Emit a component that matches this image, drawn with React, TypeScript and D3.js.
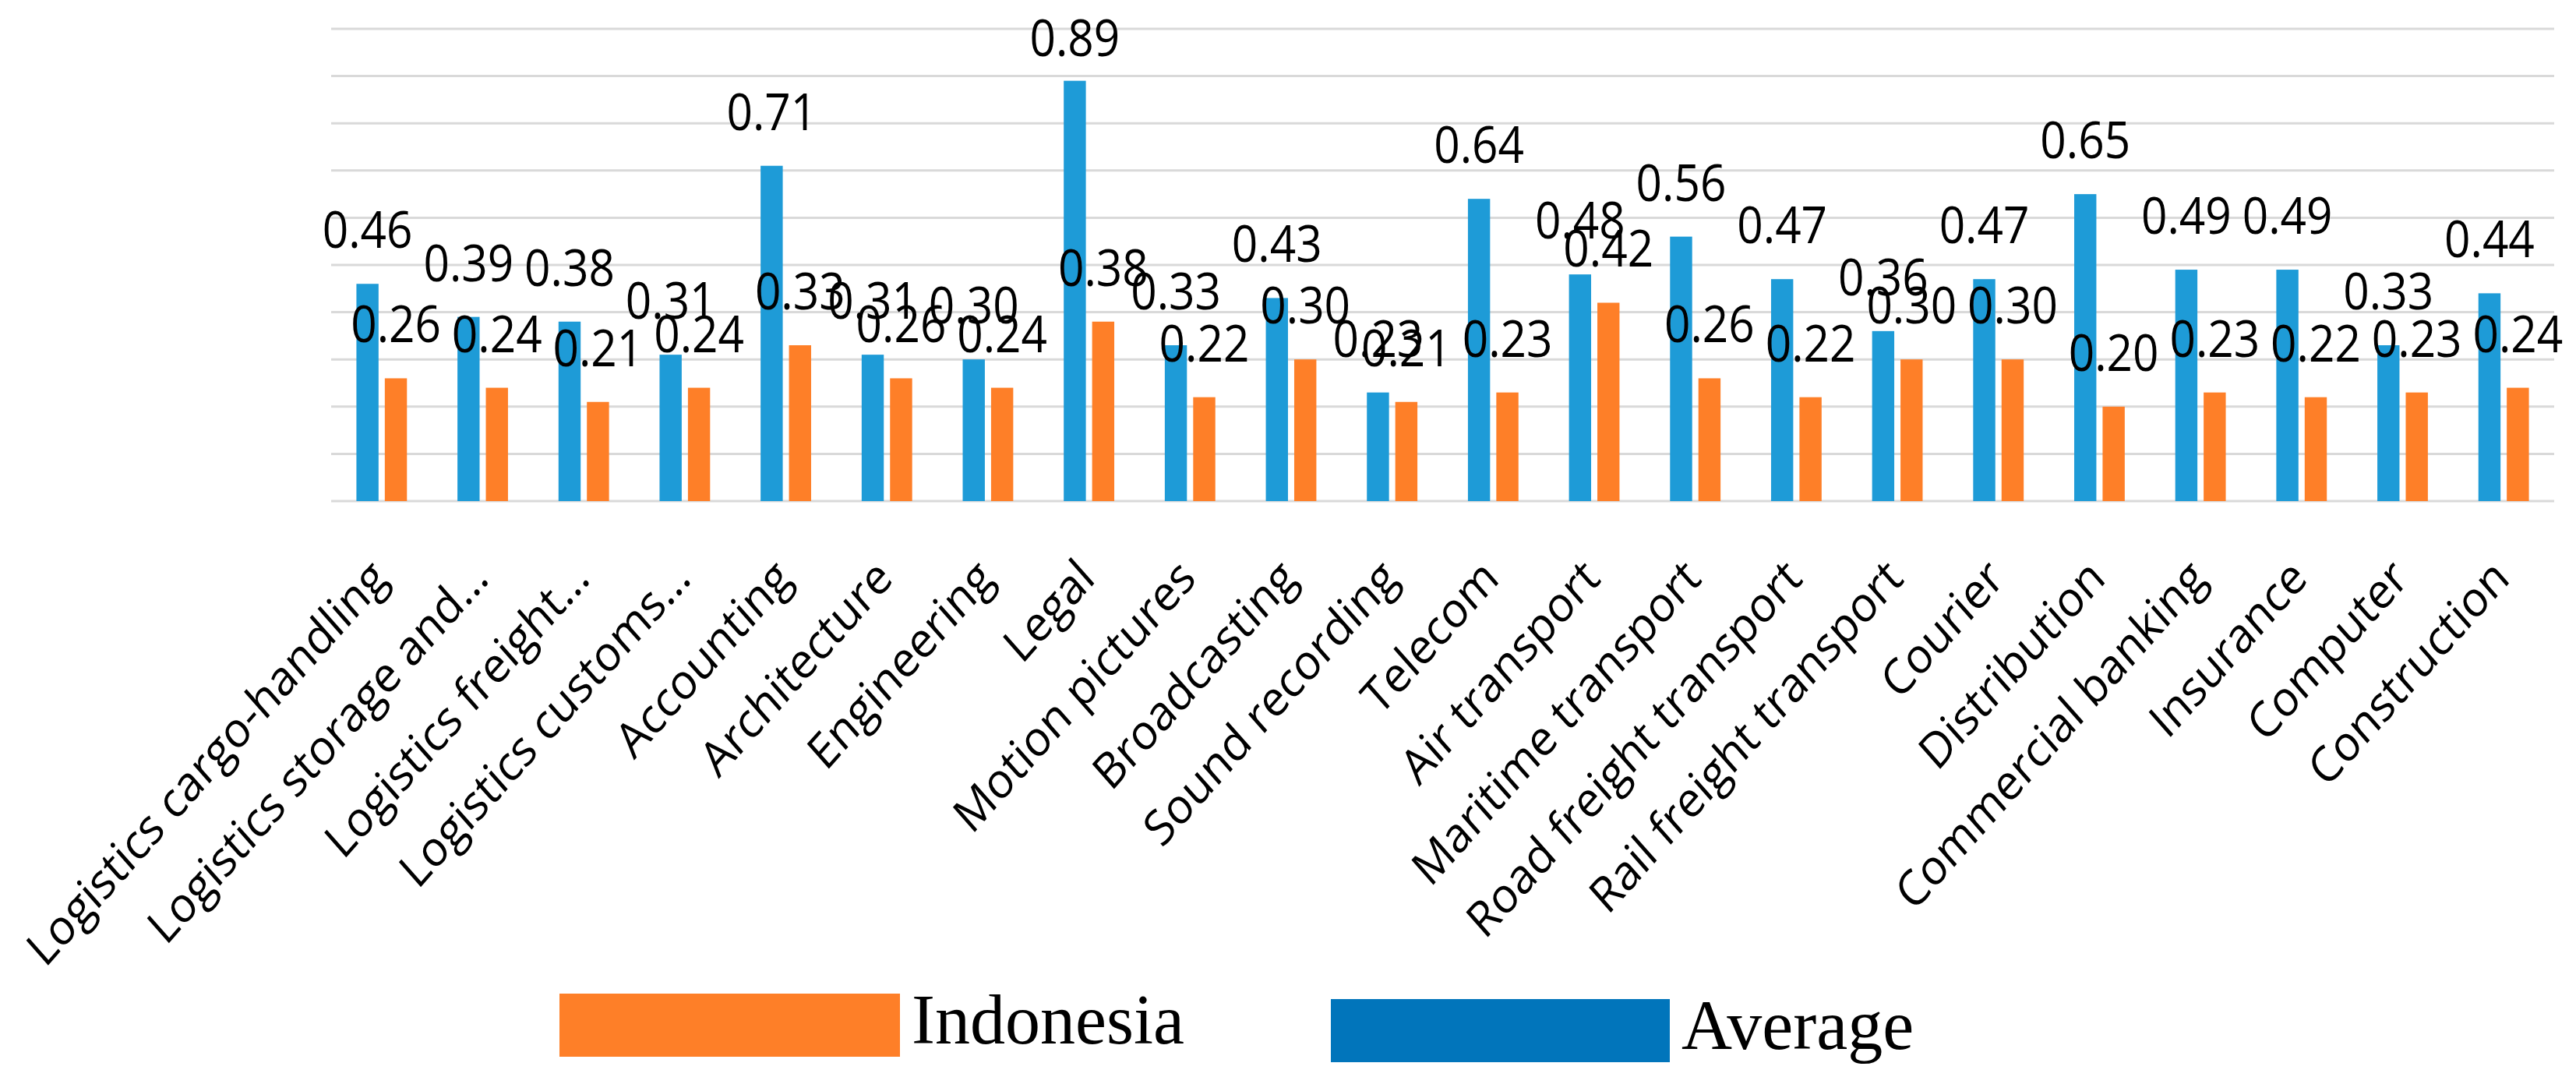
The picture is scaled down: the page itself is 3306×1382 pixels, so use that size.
import React, { useEffect, useRef } from 'react';
import * as d3 from 'd3';

const categories = [
    'Logistics cargo-handling',
    'Logistics storage and…',
    'Logistics freight…',
    'Logistics customs…',
    'Accounting',
    'Architecture',
    'Engineering',
    'Legal',
    'Motion pictures',
    'Broadcasting',
    'Sound recording',
    'Telecom',
    'Air transport',
    'Maritime transport',
    'Road freight transport',
    'Rail freight transport',
    'Courier',
    'Distribution',
    'Commercial banking',
    'Insurance',
    'Computer',
    'Construction',
];

const averageValues = [
    0.46, 0.39, 0.38, 0.31, 0.71, 0.31, 0.30, 0.89, 0.33, 0.43, 0.23,
    0.64, 0.48, 0.56, 0.47, 0.36, 0.47, 0.65, 0.49, 0.49, 0.33, 0.44,
];

const indonesiaValues = [
    0.26, 0.24, 0.21, 0.24, 0.33, 0.26, 0.24, 0.38, 0.22, 0.30, 0.21,
    0.23, 0.42, 0.26, 0.22, 0.30, 0.30, 0.20, 0.23, 0.22, 0.23, 0.24,
];

const seriesNames = ['Average', 'Indonesia'];
const barColors = ['#1e9bd7', '#fe7f28'];
const legendColors = { Indonesia: '#fe7f28', Average: '#0175bb' };

const width = 3306;
const height = 1382;
// the source figure is squeezed sideways a little
const squeeze = 0.887;

const App: React.FC = () => {
    const svgRef = useRef<SVGSVGElement | null>(null);

    useEffect(() => {
        document.body.style.margin = '0';

        const rows = categories.map((c, i) => ({
            name: c,
            values: [averageValues[i], indonesiaValues[i]],
        }));

        const svg = d3.select(svgRef.current);
        svg.selectAll('*').remove();

        const plot = { left: 425, right: 3278, top: 37, bottom: 643 };

        const x0 = d3
            .scaleBand()
            .domain(categories)
            .range([plot.left, plot.right])
            .paddingInner(0.5)
            .paddingOuter(0.25);

        const x1 = d3
            .scaleBand()
            .domain(seriesNames)
            .range([0, x0.bandwidth()])
            .paddingInner(0.22);

        const y = d3.scaleLinear().domain([0, 1]).range([plot.bottom, plot.top]);

        // grid lines
        svg
            .append('g')
            .selectAll('line')
            .data(y.ticks(10))
            .join('line')
            .attr('x1', plot.left)
            .attr('x2', plot.right)
            .attr('y1', d => y(d))
            .attr('y2', d => y(d))
            .attr('stroke', '#d9d9d9')
            .attr('stroke-width', 3);

        // bars
        const groups = svg
            .append('g')
            .selectAll('g')
            .data(rows)
            .join('g')
            .attr('transform', d => `translate(${x0(d.name)},0)`);

        groups
            .selectAll('rect')
            .data(d => d.values.map((v, k) => ({ key: seriesNames[k], value: v, k })))
            .join('rect')
            .attr('x', d => x1(d.key) as number)
            .attr('y', d => y(d.value))
            .attr('width', x1.bandwidth())
            .attr('height', d => y(0) - y(d.value))
            .attr('fill', d => barColors[d.k]);

        // value labels (kept inside the chart area at the top, like Excel does)
        groups
            .selectAll('text')
            .data(d => d.values.map((v, k) => ({ key: seriesNames[k], value: v })))
            .join('text')
            .attr(
                'transform',
                d =>
                    `translate(${(x1(d.key) as number) + x1.bandwidth() / 2},${Math.max(y(d.value) - 46, 72)}) scale(${squeeze},1)`
            )
            .attr('text-anchor', 'middle')
            .attr('font-family', '"Open Sans", sans-serif')
            .attr('font-size', 66)
            .attr('fill', '#000')
            .text(d => d.value.toFixed(2));

        // category labels
        svg
            .append('g')
            .selectAll('text')
            .data(categories)
            .join('text')
            .attr(
                'transform',
                d =>
                    `translate(${(x0(d) as number) + x0.bandwidth() / 2 + 10},745) scale(${squeeze},1) rotate(-45)`
            )
            .attr('text-anchor', 'end')
            .attr('font-family', '"Open Sans", sans-serif')
            .attr('font-size', 63)
            .attr('fill', '#000')
            .text(d => d);

        // legend
        const legendItems = [
            { name: 'Indonesia', x: 718, y: 1275, w: 437, h: 81 },
            { name: 'Average', x: 1708, y: 1282, w: 435, h: 81 },
        ];

        const legend = svg.append('g').selectAll('g').data(legendItems).join('g');

        legend
            .append('rect')
            .attr('x', d => d.x)
            .attr('y', d => d.y)
            .attr('width', d => d.w)
            .attr('height', d => d.h)
            .attr('fill', d => legendColors[d.name as 'Indonesia' | 'Average']);

        legend
            .append('text')
            .attr('x', d => d.x + d.w + 15)
            .attr('y', d => d.y + 64)
            .attr('font-family', '"Liberation Serif", "Times New Roman", serif')
            .attr('font-size', 90)
            .attr('fill', '#000')
            .text(d => d.name);
    }, []);

    return (
        <svg
            ref={svgRef}
            width={width}
            height={height}
            style={{ display: 'block', background: '#fff' }}
        ></svg>
    );
};

export default App;
